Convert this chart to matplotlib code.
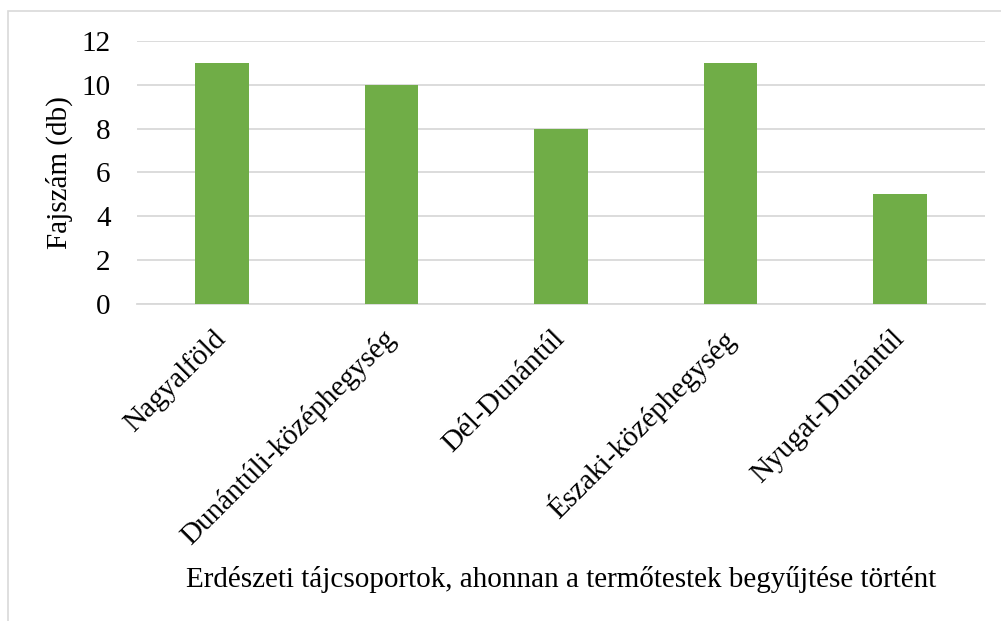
import matplotlib
matplotlib.use('Agg')
import matplotlib.pyplot as plt
from matplotlib.patches import Rectangle

regiok = [
    'Nagyalföld',
    'Dunántúli-középhegység',
    'Dél-Dunántúl',
    'Északi-középhegység',
    'Nyugat-Dunántúl'
]
fajszam = [11, 10, 8, 11, 5]
y_ticks = [0, 2, 4, 6, 8, 10, 12]

plt.rcParams['font.family'] = ['Liberation Serif', 'DejaVu Serif']

W, H = 1001, 621
fig = plt.figure(figsize=(W / 100, H / 100), dpi=100)

# chart frame, left and top edges only visible
fig.patches.append(Rectangle(
    (8 / W, -0.1), 1.2, 1.1 - 11 / H,
    transform=fig.transFigure, fill=False,
    edgecolor='#d9d9d9', linewidth=1.2
))

ax = fig.add_axes([137 / W, 1 - 304 / H, 848 / W, 263 / H])

x = range(len(regiok))
ax.bar(x, fajszam, width=0.315, color='#70ad47', zorder=3)

ax.set_xlim(-0.5, len(regiok) - 0.5)
ax.set_ylim(0, 12)
ax.set_yticks(y_ticks)
ax.yaxis.grid(True, color='#d9d9d9', linewidth=1.3, zorder=0)

for s in ['top', 'right', 'left']:
    ax.spines[s].set_visible(False)
ax.spines['bottom'].set_color('#d9d9d9')
ax.spines['bottom'].set_linewidth(1.3)

ax.tick_params(axis='both', length=0, labelsize=21, colors='black')
ax.tick_params(axis='y', pad=19)
ax.set_xticks(list(x))
ax.set_xticklabels(regiok, rotation=45, ha='right', va='center',
                   rotation_mode='anchor')
ax.tick_params(axis='x', pad=22)

ax.set_ylabel('Fajszám (db)', fontsize=21)
ax.yaxis.set_label_coords(-(137 - 73) / 848, 0.5)
ax.set_xlabel('Erdészeti tájcsoportok, ahonnan a termőtestek begyűjtése történt',
              fontsize=21, va='center')
ax.xaxis.set_label_coords(0.5, -(580 - 304) / 263)

fig.savefig('out.png', dpi=100)
